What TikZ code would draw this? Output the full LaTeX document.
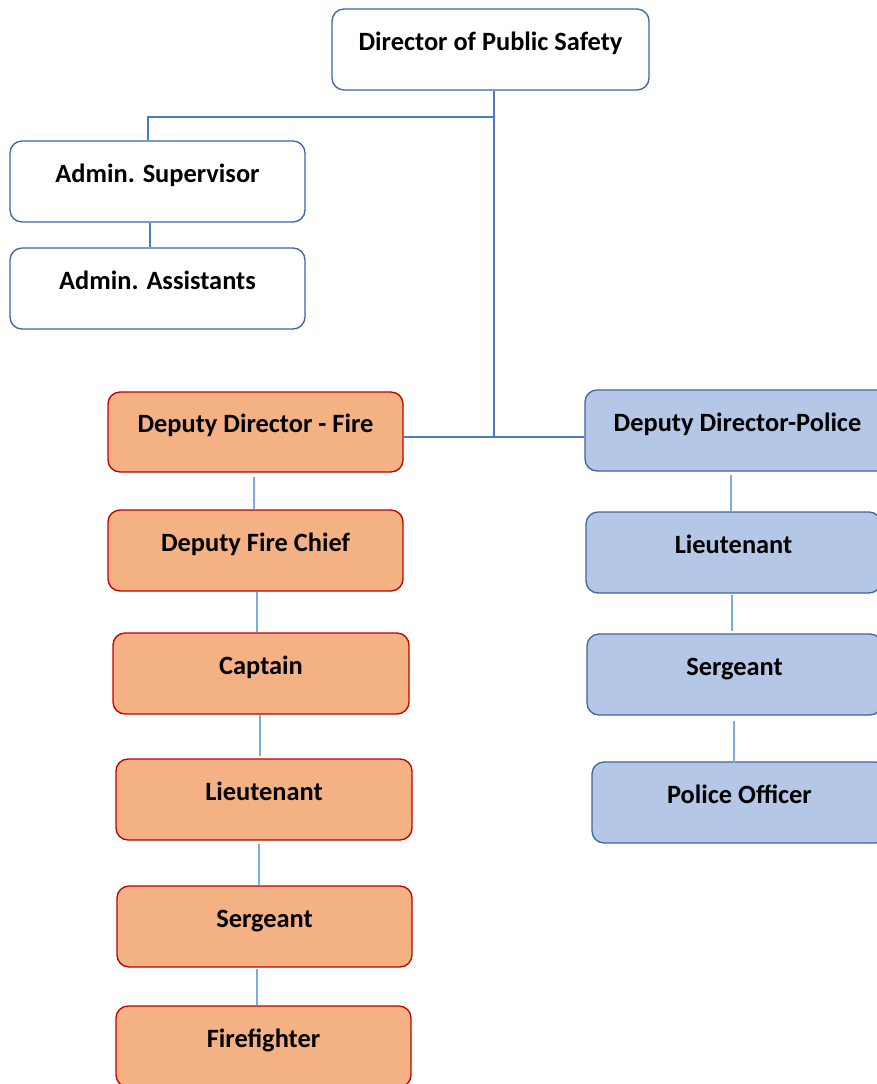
\documentclass[tikz,border=0pt]{standalone}
\usepackage{fontspec}
\setmainfont{Carlito}
\definecolor{boxblue}{HTML}{3B64AD}
\definecolor{linkdark}{HTML}{4A7BC8}
\definecolor{linklight}{HTML}{7AAEDF}
\definecolor{firefill}{HTML}{F4B183}
\definecolor{fireline}{HTML}{C00000}
\definecolor{polfill}{HTML}{B4C7E7}
\definecolor{polline}{HTML}{41649E}
\tikzset{
  orgbox/.style={rectangle, rounded corners=12pt, line width=1.3pt, inner sep=0pt,
    minimum height=81pt, text height=20pt, text depth=19pt,
    font=\fontsize{26.4}{30}\selectfont\bfseries},
  whitebox/.style={orgbox, draw=boxblue, fill=white},
  firebox/.style={orgbox, draw=fireline, fill=firefill},
  polbox/.style={orgbox, draw=polline, fill=polfill},
  darklink/.style={draw=linkdark, line width=1.1pt},
  lightlink/.style={draw=linklight, line width=1.1pt}
}
\begin{document}
\begin{tikzpicture}[x=1pt, y=-1pt]
\useasboundingbox (0,0) rectangle (877,1084);
\clip (0,0) rectangle (877,1084);
% top
\node[whitebox, minimum width=317pt] (dir) at (490.5,49.5) {Director of Public Safety};
\node[whitebox, minimum width=295pt] (as) at (157.5,181.5) {Admin. Supervisor};
\node[whitebox, minimum width=295pt] (aa) at (157.5,288.5) {Admin. Assistants};
% fire
\node[firebox, minimum width=295pt, minimum height=80pt] (fire1) at (255.5,432) {Deputy Director - Fire};
\node[firebox, minimum width=295pt] (fire2) at (255.5,550.5) {Deputy Fire Chief};
\node[firebox, minimum width=296pt] (cap) at (261,673.5) {Captain};
\node[firebox, minimum width=296pt] (flt) at (264,799.5) {Lieutenant};
\node[firebox, minimum width=295pt] (fsg) at (264.5,926.5) {Sergeant};
\node[firebox, minimum width=295pt] (ff) at (263.5,1046.5) {Firefighter};
% police
\node[polbox, minimum width=305pt] (pdd) at (737.5,430.5) {Deputy Director-Police};
\node[polbox, minimum width=295pt] (plt) at (733.5,552.5) {Lieutenant};
\node[polbox, minimum width=295pt] (psg) at (734.5,674.5) {Sergeant};
\node[polbox, minimum width=295pt] (po) at (739.5,802.5) {Police Officer};
% junctions
\coordinate (jtop) at (494,117);
\coordinate (jmid) at (494,437);
\coordinate (jadm) at (148,117);
% connectors
\draw[darklink] (dir.south -| jtop) -- (jmid);
\draw[darklink] (jtop) -- (jadm) -- (jadm |- as.north);
\draw[darklink] ([xshift=-7.5pt]as.south) -- ([xshift=-7.5pt]as.south |- aa.north);
\draw[darklink] (fire1.east |- jmid) -- (pdd.west |- jmid);
\draw[lightlink] ([xshift=-1.5pt,yshift=-4pt]fire1.south) -- ([xshift=-1.5pt]fire1.south |- fire2.north);
\draw[lightlink] ([xshift=1.5pt]fire2.south) -- ([xshift=1.5pt]fire2.south |- cap.north);
\draw[lightlink] ([xshift=-1pt]cap.south) -- ([xshift=-1pt,yshift=2pt]cap.south |- flt.north);
\draw[lightlink] ([xshift=-5pt,yshift=-3pt]flt.south) -- ([xshift=-5pt]flt.south |- fsg.north);
\draw[lightlink] ([xshift=-7.5pt,yshift=-1pt]fsg.south) -- ([xshift=-7.5pt]fsg.south |- ff.north);
\draw[lightlink] ([xshift=-6.5pt,yshift=-3pt]pdd.south) -- ([xshift=-6.5pt]pdd.south |- plt.north);
\draw[lightlink] ([xshift=-1.5pt,yshift=-1pt]plt.south) -- ([xshift=-1.5pt,yshift=2pt]plt.south |- psg.north);
\draw[lightlink] ([xshift=-0.5pt,yshift=-5pt]psg.south) -- ([xshift=-0.5pt,yshift=-2pt]psg.south |- po.north);
\end{tikzpicture}
\end{document}
